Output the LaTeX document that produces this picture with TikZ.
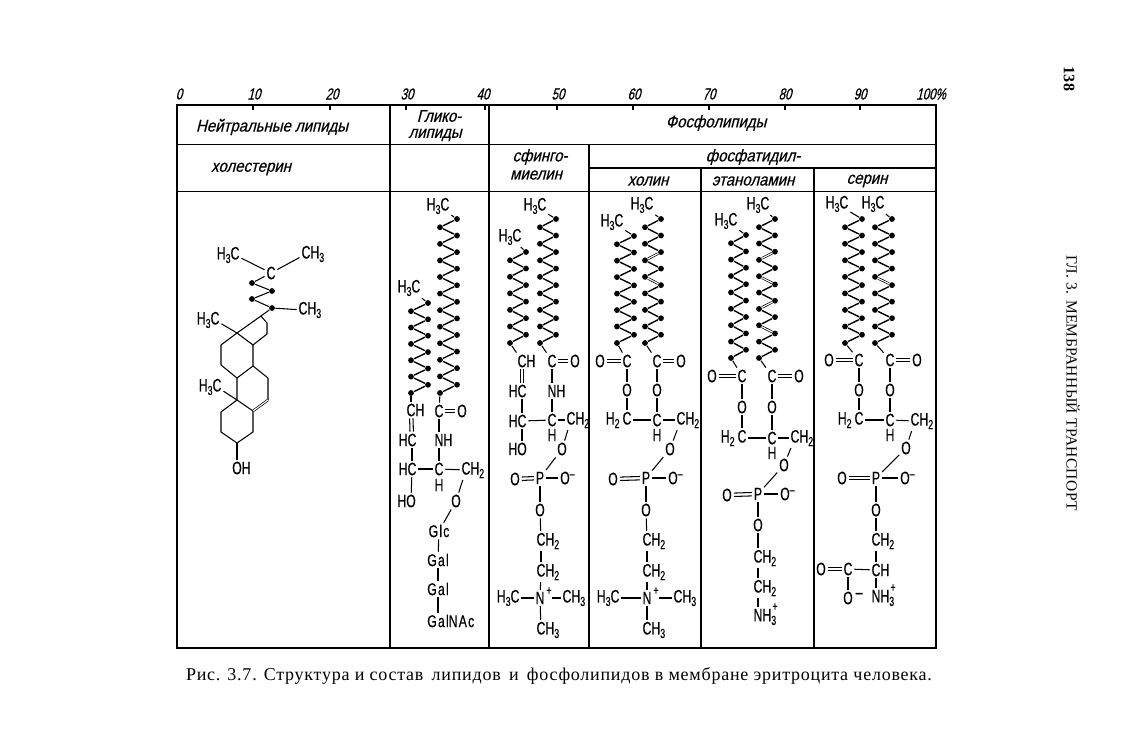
\documentclass[tikz,border=0pt]{standalone}
\usepackage{fontspec}
\setmainfont{Liberation Serif}
\newfontfamily\chemfont[FakeStretch=0.68,FakeBold=0.4]{Liberation Sans}
\newfontfamily\sugarfont[FakeStretch=0.72,FakeBold=0.4,LetterSpace=7]{Liberation Sans}
\newfontfamily\headfont[FakeStretch=0.88,FakeSlant=0.25,FakeBold=0.4]{Liberation Sans}
\newfontfamily\numfont[FakeStretch=0.72,FakeSlant=0.25,FakeBold=0.6]{Liberation Sans}
\newfontfamily\capfont[LetterSpace=4.2]{Liberation Serif}
\newfontfamily\runfont[LetterSpace=2.3]{Liberation Serif}
\tikzstyle{atom}=[inner sep=1.5pt, font=\chemfont\fontsize{18}{18}\selectfont]
\tikzstyle{sugar}=[inner sep=1.5pt, font=\sugarfont\fontsize{17}{17}\selectfont]
\tikzstyle{plus}=[inner sep=0pt, font=\chemfont\fontsize{13}{13}\selectfont]
\tikzstyle{joint}=[circle, fill=black, inner sep=0pt, minimum size=5.8pt]
\tikzstyle{head}=[inner sep=0pt, font=\headfont\fontsize{17}{17}\selectfont]
\tikzstyle{scalenum}=[inner sep=0pt, font=\numfont\fontsize{16}{16}\selectfont]
\tikzstyle{dbl}=[double, double distance=1.1pt, line width=.7pt]
\newcommand{\atom}{\node[atom]}
\newcommand{\head}{\node[head]}
\newcommand{\lowix}[1]{\raisebox{-3.5pt}{\fontsize{13}{13}\selectfont #1}}
\newcommand{\upix}[1]{\raisebox{6pt}{\fontsize{13}{13}\selectfont #1}}
% double bonds lying along an axis
\newcommand{\hbond}[2]{
  \draw[transform canvas={yshift=1.7pt}] (#1) -- (#2);
  \draw[transform canvas={yshift=-1.7pt}] (#1) -- (#2);
}
\newcommand{\vbond}[2]{
  \draw[transform canvas={xshift=1.7pt}] (#1) -- (#2);
  \draw[transform canvas={xshift=-1.7pt}] (#1) -- (#2);
}
% one fatty chain: name, right x, left x, top y, last index, bottom y
\newcommand{\zigzag}[6]{
  \foreach \i [remember=\i as \j (initially 0)] in {0,...,#5}{
    \pgfmathsetmacro{\zx}{ifthenelse(mod(\i,2)==1,#3,#2)}
    \pgfmathsetmacro{\zy}{#4+\i*(#6-#4)/#5}
    \node[joint] (#1\i) at (\zx,\zy) {};
    \ifnum\i>0 \draw[line width=1.4pt] (#1\j) -- (#1\i); \fi
  }
}
\begin{document}
\begin{tikzpicture}[x=1pt, y=-1pt, line width=1.05pt]
\useasboundingbox (0,0) rectangle (1136,752);

% scale
\foreach \lab/\x/\t in {0/179/177,10/254/253,20/332/330,30/407/406,40/483/485,50/558/557,60/634/633,70/709/709,80/785/785,90/860/860}{
  \node[scalenum] (s\lab) at (\x,94) {\lab};
  \draw (\t,105) -- (\t,110);
}
\node[scalenum] (s100) at (931,94) {100\%};

% table
\draw (177,105) rectangle (936,648);
\draw (177,144.5) -- (936,144.5);
\draw (177,191.5) -- (936,191.5);
\draw (589,168) -- (936,168);
\draw (390,105) -- (390,648);
\draw (489,105) -- (489,648);
\draw (589,144.5) -- (589,648);
\draw (701,168) -- (701,648);
\draw (814,168) -- (814,648);

\head (hneutral) at (272,127) {Нейтральные липиды};
\head (hglyca) at (439,116) {Глико-};
\head (hglycb) at (435,135) {липиды};
\head (hphos) at (716,123) {Фосфолипиды};
\head (hchol) at (251,169) {холестерин};
\head (hsphia) at (540,157) {сфинго-};
\head (hsphib) at (536,175) {миелин};
\head (hptd) at (753,157) {фосфатидил-};
\head (hcho) at (648,181) {холин};
\head (heth) at (753,181) {этаноламин};
\head (hser) at (867,181) {серин};

% cholesterol
\atom (chC) at (271,273) {C};
\atom (chMa) at (235,255) {\llap{H\lowix{3}}C};
\atom (chMb) at (306,254) {C\rlap{H\lowix{3}}};
\atom (chMc) at (303,310) {C\rlap{H\lowix{3}}};
\atom (chMd) at (215,320) {\llap{H\lowix{3}}C};
\atom (chMe) at (217,387) {\llap{H\lowix{3}}C};
\atom (chOH) at (237,468) {O\rlap{H}};
\node[joint] (chda) at (252,283) {};
\node[joint] (chdb) at (272,291) {};
\node[joint] (chdc) at (252,299) {};
\node[joint] (chdd) at (272,308) {};
\coordinate (r1) at (261,316);
\coordinate (r2) at (267,323);
\coordinate (r3) at (267,334);
\coordinate (r4) at (253,345);
\coordinate (r5) at (237,333);
\coordinate (r6) at (221,345);
\coordinate (r7) at (221,365);
\coordinate (r8) at (237,378);
\coordinate (r9) at (253,366);
\coordinate (r10) at (237,400);
\coordinate (r11) at (253,411);
\coordinate (r12) at (268,400);
\coordinate (r13) at (268,378);
\coordinate (r14) at (221,412);
\coordinate (r15) at (221,432);
\coordinate (r16) at (237,443);
\coordinate (r17) at (253,432);
\draw (chC) -- (chda) -- (chdb) -- (chdc) -- (chdd) -- (r1);
\draw (r5) -- (r1) -- (r2) -- (r3) -- (r4) -- (r5) -- (r6) -- (r7) -- (r8) -- (r9) -- (r4);
\draw (r8) -- (r10) -- (r11) -- (r17) -- (r16) -- (r15) -- (r14) -- (r10);
\draw (r9) -- (r13) -- (r12);
\path (r11) edge[dbl] (r12)
      (chMa) edge (chC)
      (chMb) edge (chC)
      (chdd) edge (chMc)
      (chMd) edge (r5)
      (chMe) edge (r10)
      (r16) edge (chOH);

% glycolipid
\zigzag{gla}{428}{411}{303}{11}{393}
\zigzag{glb}{457}{440}{219}{21}{393}
\atom (glHa) at (409,288) {H\lowix{3}C};
\atom (glHb) at (438,206) {H\lowix{3}C};
\atom (glCa) at (411,410) {C\rlap{H}};
\atom (glCb) at (439,411) {C};
\atom (glO) at (462,411) {O};
\atom (glCc) at (412,440) {\llap{H}C};
\atom (glN) at (439,440) {N\rlap{H}};
\atom (glCd) at (412,469) {\llap{H}C};
\atom (glCe) at (439,469) {C};
\atom (glH) at (439,485) {H};
\atom (glCf) at (466,470) {C\rlap{H\lowix{2}}};
\atom (glHO) at (411,501) {\llap{H}O};
\atom (glOa) at (456,501) {O};
\node[sugar] (glGa) at (439,531) {Glc};
\node[sugar] (glGb) at (438,560) {Gal};
\node[sugar] (glGc) at (438,589) {Gal};
\node[sugar] (glGd) at (438,621) {Gal\rlap{NAc}};
\hbond{glCb}{glO}
\vbond{glCa}{glCc}
\path (glHa) edge (gla0)
      (glHb) edge (glb0)
      (gla11) edge (glCa)
      (glb21) edge (glCb)
      (glCb) edge (glN)
      (glCc) edge (glCd)
      (glN) edge (glCe)
      (glCd) edge (glCe)
      (glCe) edge (glCf)
      (glCd) edge (glHO)
      (glCf) edge (glOa)
      (glOa) edge (glGa)
      (glGa) edge (glGb)
      (glGb) edge (glGc)
      (glGc) edge (glGd);

% sphingomyelin
\zigzag{sma}{526}{510}{252}{11}{343}
\zigzag{smb}{556}{540}{219}{15}{343}
\atom (smHa) at (510,237) {H\lowix{3}C};
\atom (smHb) at (535,206) {H\lowix{3}C};
\atom (smCa) at (522,361) {C\rlap{H}};
\atom (smCb) at (552,361) {C};
\atom (smO) at (575,361) {O};
\atom (smCc) at (522,391) {\llap{H}C};
\atom (smN) at (552,391) {N\rlap{H}};
\atom (smCd) at (522,421) {\llap{H}C};
\atom (smCe) at (552,420) {C};
\atom (smH) at (552,435) {H};
\atom (smCf) at (571,420) {C\rlap{H\lowix{2}}};
\atom (smHO) at (522,449) {\llap{H}O};
\atom (smOa) at (562,449) {O};
\atom (smP) at (540,478) {P};
\atom (smOb) at (515,479) {O};
\atom (smOc) at (565,478) {O\rlap{\upix{–}}};
\atom (smOd) at (540,510) {O};
\atom (smCg) at (541,541) {C\rlap{H\lowix{2}}};
\atom (smCh) at (541,572) {C\rlap{H\lowix{2}}};
\atom (smNp) at (540,598) {N};
\atom (smCi) at (515,598) {\llap{H\lowix{3}}C};
\atom (smCj) at (567,598) {C\rlap{H\lowix{3}}};
\atom (smCk) at (541,630) {C\rlap{H\lowix{3}}};
\node[plus] (smPl) at (549,591) {+};
\hbond{smCb}{smO}
\vbond{smCa}{smCc}
\hbond{smOb}{smP}
\path (smHa) edge (sma0)
      (smHb) edge (smb0)
      (sma11) edge (smCa)
      (smb15) edge (smCb)
      (smCb) edge (smN)
      (smCc) edge (smCd)
      (smN) edge (smCe)
      (smCd) edge (smCe)
      (smCe) edge (smCf)
      (smCd) edge (smHO)
      (smCf) edge (smOa)
      (smOa) edge (smP)
      (smP) edge (smOc)
      (smP) edge (smOd)
      (smOd) edge (smCg)
      (smCg) edge (smCh)
      (smCh) edge (smNp)
      (smCi) edge (smNp)
      (smPl.east |- smNp) edge (smCj)
      (smNp) edge (smCk);

% phosphatidylcholine
\zigzag{pca}{634}{617}{236}{13}{343}
\zigzag{pcb}{661}{645}{219}{15}{343}
\atom (pcHa) at (612,222) {H\lowix{3}C};
\atom (pcHb) at (642,205) {H\lowix{3}C};
\atom (pcOa) at (600,361) {O};
\atom (pcCa) at (627,361) {C};
\atom (pcCb) at (657,361) {C};
\atom (pcOb) at (681,361) {O};
\atom (pcOc) at (627,390) {O};
\atom (pcOd) at (657,390) {O};
\atom (pcCc) at (627,420) {\llap{H\lowix{2}\,}C};
\atom (pcCd) at (657,420) {C};
\atom (pcH) at (657,435) {H};
\atom (pcCe) at (681,420) {C\rlap{H\lowix{2}}};
\atom (pcOe) at (670,449) {O};
\atom (pcP) at (646,478) {P};
\atom (pcOf) at (613,479) {O};
\atom (pcOg) at (673,478) {O\rlap{\upix{–}}};
\atom (pcOh) at (646,510) {O};
\atom (pcCf) at (647,541) {C\rlap{H\lowix{2}}};
\atom (pcCg) at (647,572) {C\rlap{H\lowix{2}}};
\atom (pcNp) at (647,598) {N};
\atom (pcCh) at (615,598) {\llap{H\lowix{3}}C};
\atom (pcCi) at (678,598) {C\rlap{H\lowix{3}}};
\atom (pcCj) at (647,630) {C\rlap{H\lowix{3}}};
\node[plus] (pcPl) at (656,591) {+};
\hbond{pcOa}{pcCa}
\hbond{pcCb}{pcOb}
\hbond{pcOf}{pcP}
\path (pcHa) edge (pca0)
      (pcHb) edge (pcb0)
      (pca13) edge (pcCa)
      (pcb15) edge (pcCb)
      (pcCa) edge (pcOc)
      (pcCb) edge (pcOd)
      (pcOc) edge (pcCc)
      (pcOd) edge (pcCd)
      (pcCc) edge (pcCd)
      (pcCd) edge (pcCe)
      (pcCe) edge (pcOe)
      (pcOe) edge (pcP)
      (pcP) edge (pcOg)
      (pcP) edge (pcOh)
      (pcOh) edge (pcCf)
      (pcCf) edge (pcCg)
      (pcCg) edge (pcNp)
      (pcCh) edge (pcNp)
      (pcPl.east |- pcNp) edge (pcCi)
      (pcNp) edge (pcCj)
      (pcb4) edge[dbl] (pcb5)
      (pcb7) edge[dbl] (pcb8);

% phosphatidylethanolamine
\zigzag{pea}{746}{731}{235}{15}{358}
\zigzag{peb}{775}{759}{219}{17}{358}
\atom (peHa) at (726,221) {H\lowix{3}C};
\atom (peHb) at (758,205) {H\lowix{3}C};
\atom (peOa) at (712,376) {O};
\atom (peCa) at (742,376) {C};
\atom (peCb) at (772,376) {C};
\atom (peOb) at (799,376) {O};
\atom (peOc) at (742,407) {O};
\atom (peOd) at (772,407) {O};
\atom (peCc) at (742,438) {\llap{H\lowix{2}\,}C};
\atom (peCd) at (772,438) {C};
\atom (peH) at (772,453) {H};
\atom (peCe) at (795,438) {C\rlap{H\lowix{2}}};
\atom (peOe) at (784,465) {O};
\atom (peOf) at (727,495) {O};
\atom (peP) at (758,494) {P};
\atom (peOg) at (785,494) {O\rlap{\upix{–}}};
\atom (peOh) at (758,525) {O};
\atom (peCf) at (758,558) {C\rlap{H\lowix{2}}};
\atom (peCg) at (758,588) {C\rlap{H\lowix{2}}};
\atom (peN) at (758,617) {N\rlap{H\lowix{3}}};
\node[plus] (pePl) at (775,607) {+};
\hbond{peOa}{peCa}
\hbond{peCb}{peOb}
\hbond{peOf}{peP}
\path (peHa) edge (pea0)
      (peHb) edge (peb0)
      (pea15) edge (peCa)
      (peb17) edge (peCb)
      (peCa) edge (peOc)
      (peCb) edge (peOd)
      (peOc) edge (peCc)
      (peOd) edge (peCd)
      (peCc) edge (peCd)
      (peCd) edge (peCe)
      (peCe) edge (peOe)
      (peOe) edge (peP)
      (peP) edge (peOg)
      (peP) edge (peOh)
      (peOh) edge (peCf)
      (peCf) edge (peCg)
      (peCg) edge (peN)
      (peb4) edge[dbl] (peb5)
      (peb7) edge[dbl] (peb8)
      (peb10) edge[dbl] (peb11)
      (peb13) edge[dbl] (peb14);

% phosphatidylserine
\zigzag{psa}{862}{845}{219}{15}{343}
\zigzag{psb}{892}{875}{219}{15}{343}
\atom (psHa) at (837,204) {H\lowix{3}C};
\atom (psHb) at (873,204) {H\lowix{3}C};
\atom (psOa) at (829,360) {O};
\atom (psCa) at (859,360) {C};
\atom (psCb) at (890,360) {C};
\atom (psOb) at (917,360) {O};
\atom (psOc) at (859,390) {O};
\atom (psOd) at (890,390) {O};
\atom (psCc) at (859,420) {\llap{H\lowix{2}\,}C};
\atom (psCd) at (890,420) {C};
\atom (psH) at (890,435) {H};
\atom (psCe) at (915,421) {C\rlap{H\lowix{2}}};
\atom (psOe) at (906,448) {O};
\atom (psOf) at (842,478) {O};
\atom (psP) at (876,478) {P};
\atom (psOg) at (905,478) {O\rlap{\upix{–}}};
\atom (psOh) at (876,510) {O};
\atom (psCf) at (876,541) {C\rlap{H\lowix{2}}};
\atom (psCg) at (876,570) {C\rlap{H}};
\atom (psCh) at (848,569) {C};
\atom (psOi) at (821,569) {O};
\atom (psOj) at (848,598) {O\rlap{\,\raisebox{6pt}{–}}};
\atom (psN) at (876,598) {N\rlap{H\lowix{3}}};
\node[plus] (psPl) at (893,588) {+};
\hbond{psOa}{psCa}
\hbond{psCb}{psOb}
\hbond{psOf}{psP}
\hbond{psOi}{psCh}
\path (psHa) edge (psa0)
      (psHb) edge (psb0)
      (psa15) edge (psCa)
      (psb15) edge (psCb)
      (psCa) edge (psOc)
      (psCb) edge (psOd)
      (psOc) edge (psCc)
      (psOd) edge (psCd)
      (psCc) edge (psCd)
      (psCd) edge (psCe)
      (psCe) edge (psOe)
      (psOe) edge (psP)
      (psP) edge (psOg)
      (psP) edge (psOh)
      (psOh) edge (psCf)
      (psCf) edge (psCg)
      (psCg) edge (psN)
      (psCh) edge (psCg)
      (psCh) edge (psOj)
      (psb7) edge[dbl] (psb8);

% page text
\node[inner sep=0pt, font=\capfont\fontsize{18}{18}\selectfont] (caption) at (559,676)
  {Рис. 3.7. Структура и состав\, липидов\, и\, фосфолипидов в мембране эритроцита человека.};
\node[inner sep=0pt, rotate=-90, font=\capfont\bfseries\fontsize{16}{16}\selectfont] (pageno) at (1069,79) {138};
\node[inner sep=0pt, rotate=-90, font=\runfont\fontsize{15.5}{15.5}\selectfont] (runhead) at (1073,383) {ГЛ. 3. МЕМБРАННЫЙ ТРАНСПОРТ};
\end{tikzpicture}
\end{document}
